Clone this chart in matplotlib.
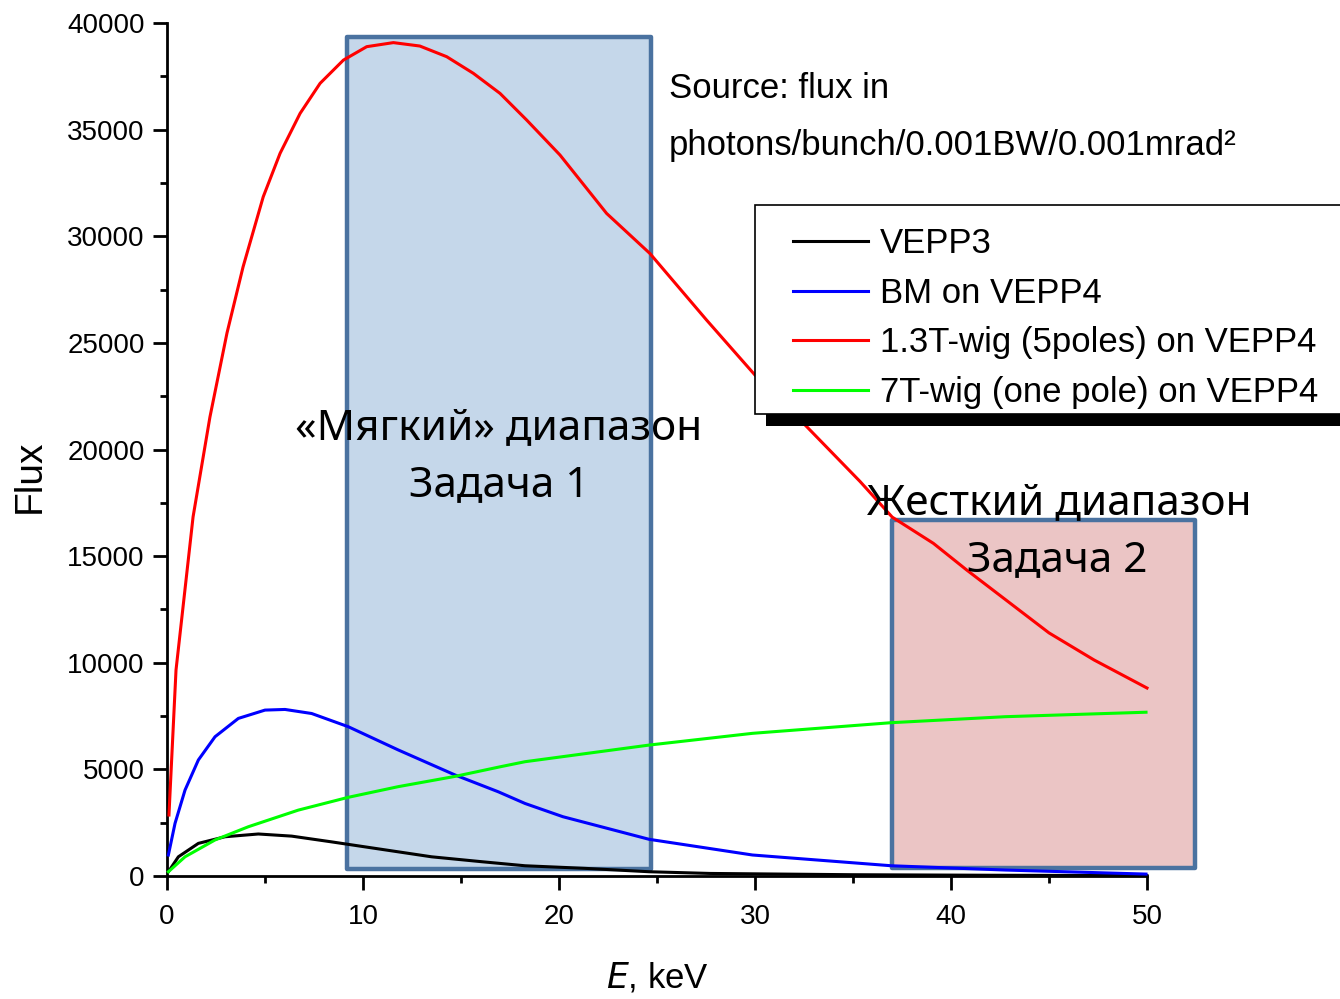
import matplotlib
matplotlib.use('Agg')
import matplotlib.pyplot as plt
from matplotlib.patches import Rectangle
from matplotlib.ticker import MultipleLocator

# values
e_vepp3 = [0.07, 0.58, 1.6, 2.96, 4.66, 6.36, 8.4, 10.95, 13.5, 16.06, 18.27, 21.3, 24.6, 27.7, 35, 42, 50]
f_vepp3 = [200, 900, 1530, 1840, 1970, 1870, 1600, 1250, 900, 670, 480, 360, 200, 120, 60, 35, 20]

e_bm = [0.07, 0.41, 0.92, 1.6, 2.45, 3.64, 5.0, 6.02, 7.38, 9.25, 11.8, 14.69, 16.9, 18.27,
        20.2, 24.6, 29.87, 36.96, 42.76, 49.95]
f_bm = [985, 2470, 4030, 5440, 6530, 7390, 7780, 7810, 7620, 7000, 5910, 4740, 3950, 3400,
        2780, 1720, 985, 480, 280, 90]

e_wig13 = [0.1, 0.46, 1.33, 2.19, 3.06, 3.88, 4.91, 5.77, 6.79, 7.81, 9.0, 10.19, 11.55, 12.9,
           14.27, 15.63, 16.99, 18.35, 20.05, 22.43, 24.64, 27.53, 30.0, 32.64, 35.36, 37.0,
           39.1, 40.8, 45.0, 47.3, 50.0]
f_wig13 = [2860, 9660, 16840, 21520, 25460, 28560, 31850, 33890, 35760, 37170, 38260, 38890, 39080, 38920,
           38420, 37640, 36700, 35450, 33810, 31070, 29190, 26070, 23490, 21070, 18500, 16830,
           15600, 14350, 11400, 10130, 8815]

e_wig7 = [0.07, 0.92, 2.45, 4.15, 6.7, 9.25, 11.8, 14.69, 16.99, 18.27, 24.6, 29.87, 36.96, 42.76, 49.95]
f_wig7 = [200, 900, 1690, 2310, 3090, 3690, 4190, 4670, 5120, 5360, 6140, 6690, 7190, 7470, 7680]

labels = ['VEPP3', 'BM on VEPP4', '1.3T-wig (5poles) on VEPP4', '7T-wig (one pole) on VEPP4']

# energy ranges of the two tasks
soft = (9.18, 24.7, 330, 39340)
hard = (37.0, 52.45, 375, 16690)

W, H = 1340, 999
plt.rcParams['font.family'] = ['Liberation Sans', 'DejaVu Sans']

fig = plt.figure(figsize=(13.4, 9.99), dpi=100)
ax = fig.add_axes([167 / W, 1 - 876 / H, (1147 - 167) / W, (876 - 23) / H])

for (x0, x1, y0, y1), fc in [(soft, '#c5d7ea'), (hard, '#ebc5c5')]:
    ax.add_patch(Rectangle((x0, y0), x1 - x0, y1 - y0, facecolor=fc, edgecolor='#4a72a0',
                           lw=3.2, joinstyle='round', clip_on=False, zorder=1))

l1, = ax.plot(e_vepp3, f_vepp3, color='black', lw=2.2, zorder=3, clip_on=False)
l2, = ax.plot(e_bm, f_bm, color='#0000ff', lw=2.2, zorder=3, clip_on=False)
l3, = ax.plot(e_wig13, f_wig13, color='#ff0000', lw=2.2, zorder=3, clip_on=False)
l4, = ax.plot(e_wig7, f_wig7, color='#00ff00', lw=2.2, zorder=3, clip_on=False)

ax.set_xlim(0, 50)
ax.set_ylim(0, 40000)
ax.xaxis.set_major_locator(MultipleLocator(10))
ax.xaxis.set_minor_locator(MultipleLocator(5))
ax.yaxis.set_major_locator(MultipleLocator(5000))
ax.yaxis.set_minor_locator(MultipleLocator(2500))
for s in ['top', 'right']:
    ax.spines[s].set_visible(False)
for s in ['left', 'bottom']:
    ax.spines[s].set_linewidth(2)
ax.tick_params(which='major', direction='out', length=10, width=2, labelsize=20, pad=6)
ax.tick_params(axis='x', which='major', pad=10)
ax.tick_params(which='minor', direction='out', length=5, width=2)
ax.patch.set_alpha(0)

fig.text(30 / W, 1 - 476 / H, 'Flux', rotation=90, fontsize=28, ha='center', va='center')
fig.text(657 / W, 1 - 978 / H, r'$\it{E}$, keV', fontsize=25, ha='center', va='center')

# legend with frame and black bar below it
fig.add_artist(Rectangle((755 / W, 1 - 414 / H), (1345 - 755) / W, (414 - 205) / H,
                         transform=fig.transFigure, facecolor='white', edgecolor='black', lw=1.2, zorder=4))
fig.add_artist(Rectangle((766 / W, 1 - 426 / H), (1345 - 766) / W, 12 / H,
                         transform=fig.transFigure, facecolor='black', edgecolor='none', zorder=4))
leg = fig.legend([l1, l2, l3, l4], labels, loc='upper left', bbox_to_anchor=(793 / W, 1 - 227 / H),
                 bbox_transform=fig.transFigure, frameon=False, borderpad=0, borderaxespad=0,
                 handlelength=2.16, handletextpad=0.35, labelspacing=0.48, fontsize=25)
leg.set_zorder(5)

fig.text(669 / W, 1 - 88 / H, 'Source: flux in', fontsize=25, va='center')
fig.text(669 / W, 1 - 145 / H, 'photons/bunch/0.001BW/0.001mrad²', fontsize=25, va='center')

ru = ['Noto Sans', 'DejaVu Sans']
fig.text(499 / W, 1 - 428 / H, '«Мягкий» диапазон', fontsize=30.5, family=ru, ha='center', va='center', zorder=6)
fig.text(499 / W, 1 - 485 / H, 'Задача 1', fontsize=30.5, family=ru, ha='center', va='center', zorder=6)
fig.text(1059 / W, 1 - 503 / H, 'Жесткий диапазон', fontsize=30.5, family=ru, ha='center', va='center', zorder=6)
fig.text(1057 / W, 1 - 560 / H, 'Задача 2', fontsize=30.5, family=ru, ha='center', va='center', zorder=6)

fig.savefig('out.png', dpi=100)
